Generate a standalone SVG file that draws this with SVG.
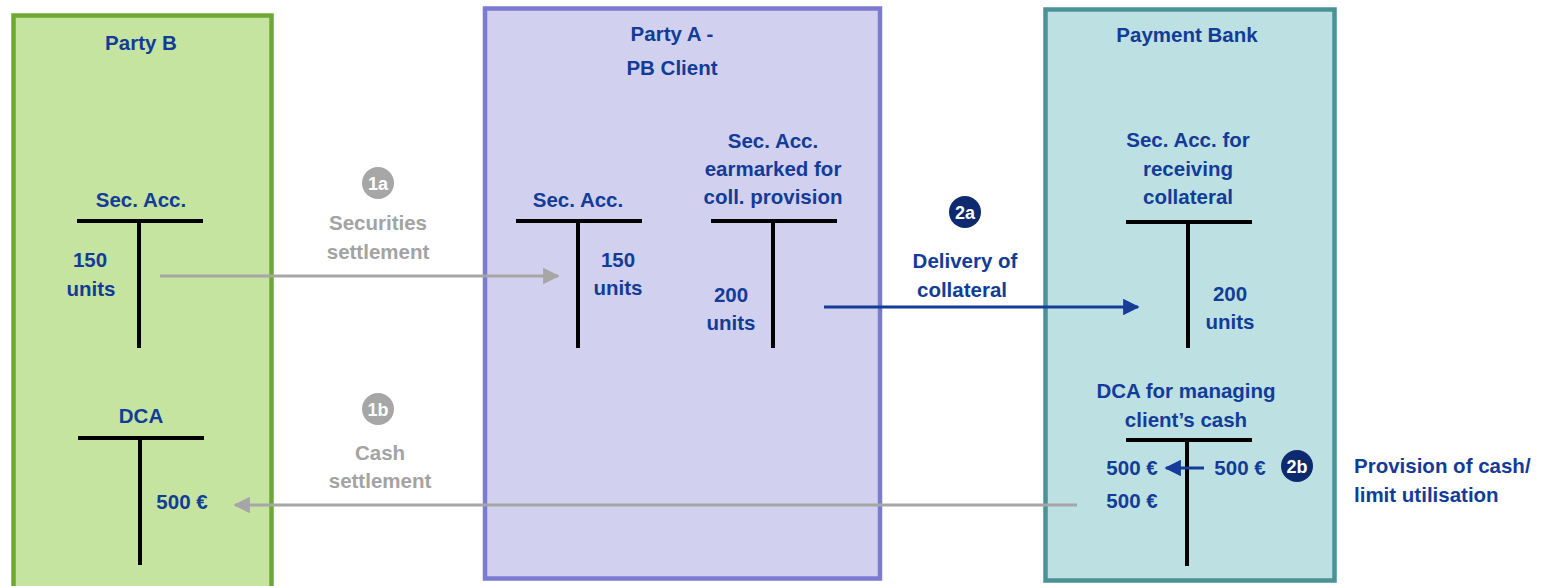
<svg xmlns="http://www.w3.org/2000/svg" width="1552" height="586" viewBox="0 0 1552 586">
<defs>
<style>
.t{font-family:"Liberation Sans",Arial,sans-serif;font-weight:bold;font-size:20.5px;fill:#123c97;text-anchor:middle;}
.g{font-family:"Liberation Sans",Arial,sans-serif;font-weight:bold;font-size:20.5px;fill:#a3a3a3;text-anchor:middle;}
.l{text-anchor:start;}
.bar{stroke:#000;stroke-width:4;fill:none;}
.ct{font-family:"Liberation Sans",Arial,sans-serif;font-weight:bold;font-size:18px;fill:#fff;text-anchor:middle;}
</style>
<marker id="ag" viewBox="0 0 10 10" refX="9" refY="5" markerWidth="5.5" markerHeight="5.5" orient="auto" markerUnits="strokeWidth"><path d="M0,0L10,5L0,10z" fill="#a6a6a6"/></marker>
<marker id="ab" viewBox="0 0 10 10" refX="9" refY="5" markerWidth="5.5" markerHeight="5.5" orient="auto" markerUnits="strokeWidth"><path d="M0,0L10,5L0,10z" fill="#153c98"/></marker>
</defs>
<rect width="1552" height="586" fill="#fff"/>

<g id="partyB">
<rect x="13.5" y="15.5" width="258" height="580" fill="#c5e4a0" stroke="#6ea832" stroke-width="4.5"/>
<text class="t" x="141" y="50">Party B</text>
<text class="t" x="141" y="207">Sec. Acc.</text>
<path class="bar" d="M77,221H203M139,221V348"/>
<text class="t" x="90" y="267">150</text>
<text class="t" x="91" y="296">units</text>
<text class="t" x="141" y="423">DCA</text>
<path class="bar" d="M78,438H204M140,438V565"/>
<text class="t" x="182" y="509">500 €</text>
</g>

<g id="partyA">
<rect x="485" y="8.5" width="395" height="570" fill="#d1d1ef" stroke="#7b7bd1" stroke-width="4.5"/>
<text class="t" x="672" y="41">Party A -</text>
<text class="t" x="672" y="75">PB Client</text>
<text class="t" x="578" y="207">Sec. Acc.</text>
<path class="bar" d="M516,221H642M578,221V348"/>
<text class="t" x="618" y="267">150</text>
<text class="t" x="618" y="295">units</text>
<text class="t" x="773" y="148">Sec. Acc.</text>
<text class="t" x="773" y="176">earmarked for</text>
<text class="t" x="773" y="204">coll. provision</text>
<path class="bar" d="M711,221H837M773,221V348"/>
<text class="t" x="731" y="302">200</text>
<text class="t" x="731" y="330">units</text>
</g>

<g id="paymentBank">
<rect x="1045.5" y="9.5" width="289" height="571" fill="#bde0e3" stroke="#4a9296" stroke-width="4.5"/>
<text class="t" x="1187" y="42">Payment Bank</text>
<text class="t" x="1188" y="147">Sec. Acc. for</text>
<text class="t" x="1188" y="176">receiving</text>
<text class="t" x="1188" y="204">collateral</text>
<path class="bar" d="M1126,222H1252M1188,222V348"/>
<text class="t" x="1230" y="301">200</text>
<text class="t" x="1230" y="329">units</text>
<text class="t" x="1186" y="398">DCA for managing</text>
<text class="t" x="1186" y="427">client’s cash</text>
<path class="bar" d="M1126,440H1252M1187,440V566"/>
<text class="t" x="1132" y="475">500 €</text>
<text class="t" x="1240" y="475">500 €</text>
<text class="t" x="1132" y="508">500 €</text>
</g>

<g id="connectors">
<line x1="160" y1="276" x2="558" y2="276" stroke="#a6a6a6" stroke-width="3" marker-end="url(#ag)"/>
<line x1="1077" y1="505" x2="235" y2="505" stroke="#a6a6a6" stroke-width="3" marker-end="url(#ag)"/>
<line x1="824" y1="307" x2="1138" y2="307" stroke="#153c98" stroke-width="3" marker-end="url(#ab)"/>
<line x1="1204" y1="468" x2="1166" y2="468" stroke="#153c98" stroke-width="3" marker-end="url(#ab)"/>
</g>

<g id="label1a">
<circle cx="378" cy="183" r="16" fill="#a6a6a6"/>
<text class="ct" x="378" y="189.5">1a</text>
<text class="g" x="378" y="230">Securities</text>
<text class="g" x="378" y="259">settlement</text>
</g>
<g id="label1b">
<circle cx="378" cy="409" r="16" fill="#a6a6a6"/>
<text class="ct" x="378" y="415.5">1b</text>
<text class="g" x="380" y="460">Cash</text>
<text class="g" x="380" y="488">settlement</text>
</g>
<g id="label2a">
<circle cx="965" cy="212" r="16" fill="#0d2a6e"/>
<text class="ct" x="965" y="218.5">2a</text>
<text class="t" x="965" y="268">Delivery of</text>
<text class="t" x="962" y="297">collateral</text>
</g>
<g id="label2b">
<circle cx="1297" cy="466" r="16" fill="#0d2a6e"/>
<text class="ct" x="1297" y="472.5">2b</text>
<text class="t l" x="1354" y="473">Provision of cash/</text>
<text class="t l" x="1354" y="502">limit utilisation</text>
</g>
</svg>
